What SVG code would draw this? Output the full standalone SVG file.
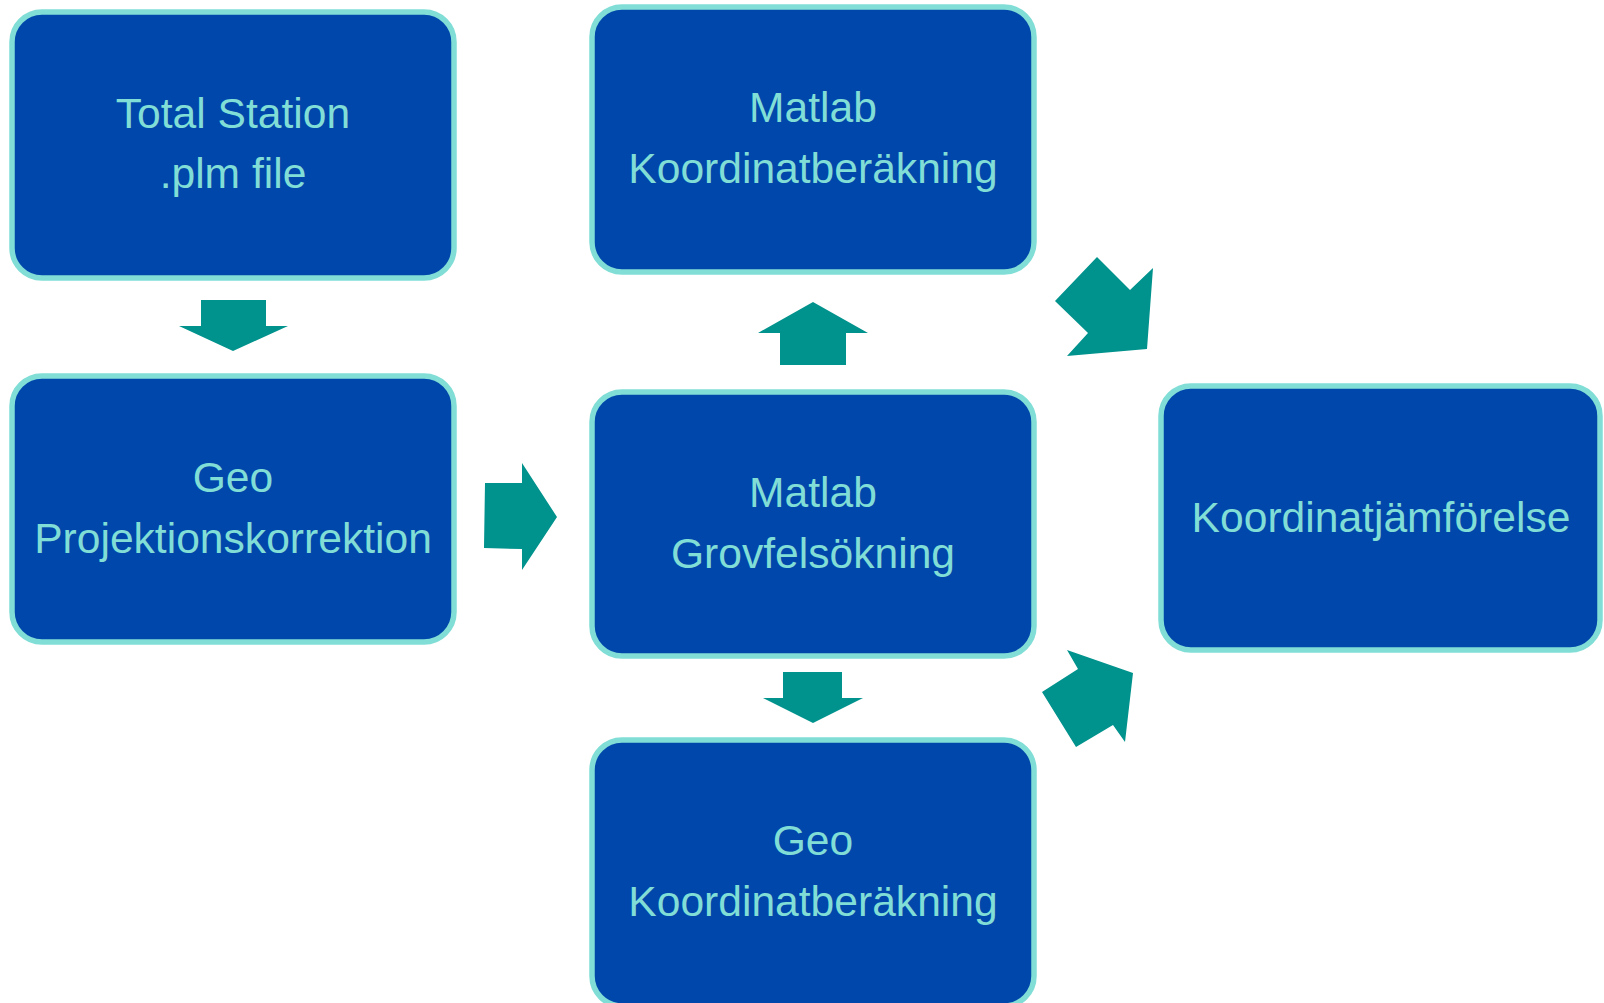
<svg xmlns="http://www.w3.org/2000/svg" width="1604" height="1003" viewBox="0 0 1604 1003">
<style>
.box{fill:#0047AB;stroke:#80DED6;stroke-width:5.5}
.lbl{font-family:"Liberation Sans",Arial,sans-serif;font-size:42.6px;fill:#80DED6;text-anchor:middle}
.arr{fill:#00928C}
</style>
<rect width="1604" height="1003" fill="#FFFFFF"/>
<g id="n-total">
<rect class="box" x="12" y="12" width="442" height="266" rx="30"/>
<text class="lbl" x="233" y="128">Total Station</text>
<text class="lbl" x="233" y="188">.plm file</text>
</g>
<g id="n-geo-proj">
<rect class="box" x="12" y="376" width="442" height="266" rx="30"/>
<text class="lbl" x="233" y="492">Geo</text>
<text class="lbl" x="233" y="553">Projektionskorrektion</text>
</g>
<g id="n-matlab-koord">
<rect class="box" x="592" y="7" width="442" height="265" rx="30"/>
<text class="lbl" x="813" y="122">Matlab</text>
<text class="lbl" x="813" y="183">Koordinatberäkning</text>
</g>
<g id="n-matlab-grov">
<rect class="box" x="592" y="392" width="442" height="264" rx="30"/>
<text class="lbl" x="813" y="507">Matlab</text>
<text class="lbl" x="813" y="568">Grovfelsökning</text>
</g>
<g id="n-geo-koord">
<rect class="box" x="592" y="740" width="442" height="266" rx="30"/>
<text class="lbl" x="813" y="855">Geo</text>
<text class="lbl" x="813" y="916">Koordinatberäkning</text>
</g>
<g id="n-jamfor">
<rect class="box" x="1161" y="386" width="439" height="264" rx="30"/>
<text class="lbl" x="1381" y="532">Koordinatjämförelse</text>
</g>
<g id="connectors">
<polygon class="arr" points="201,300 266,300 266,326 288,326 233,351 179,326 201,326"/>
<polygon class="arr" points="485,483 522,483 522,463 557,517 522,570 522,549 484,548"/>
<polygon class="arr" points="813,302 868,333 846,333 846,365 780,365 780,333 758,333"/>
<polygon class="arr" points="783,672 842,672 842,698 863,698 813,723 763,698 783,698"/>
<polygon class="arr" points="1097,257 1130,290 1153,268 1147,349 1067,356 1088,333 1055,301"/>
<polygon class="arr" points="1067,650 1133,673 1125,742 1113,725 1076,747 1042,692 1078,669"/>
</g>
</svg>
